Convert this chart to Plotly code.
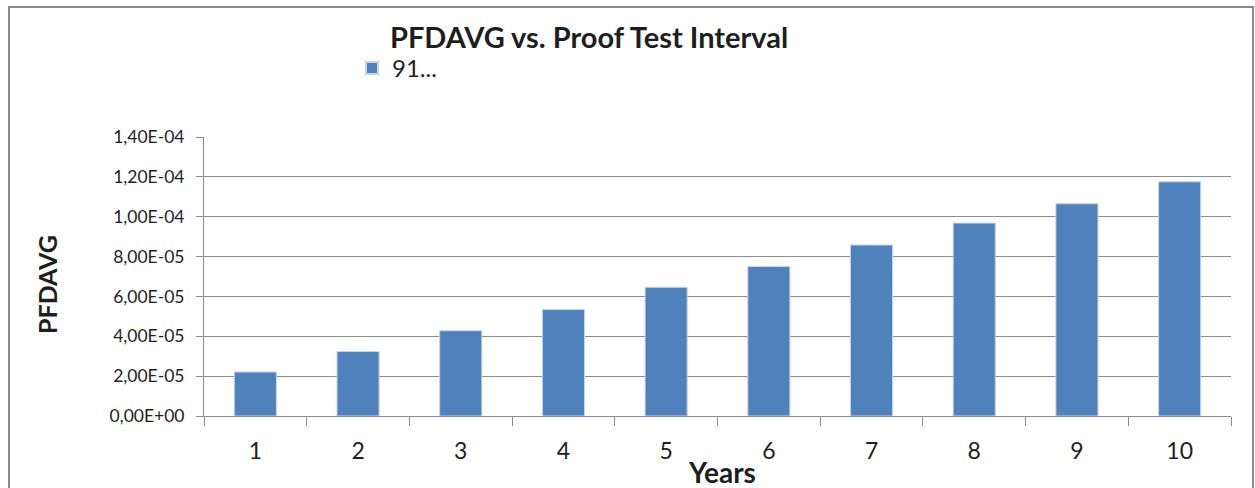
import plotly.graph_objects as go

years = ["1", "2", "3", "4", "5", "6", "7", "8", "9", "10"]
pfdavg = [2.21e-5, 3.24e-5, 4.28e-5, 5.34e-5, 6.46e-5, 7.5e-5, 8.58e-5, 9.68e-5, 1.065e-4, 1.175e-4]
series_name = "91..."
y_tickvals = [0, 2e-5, 4e-5, 6e-5, 8e-5, 1e-4, 1.2e-4, 1.4e-4]
y_ticktext = ["0,00E+00", "2,00E-05", "4,00E-05", "6,00E-05", "8,00E-05", "1,00E-04", "1,20E-04", "1,40E-04"]

W, H = 1255, 488
L, R, T, B = 204, 1231, 137, 416
pw, ph = R - L, B - T

def px(x):
    return (x - L) / pw

def py(y):
    return (B - y) / ph

FONT = "Lato"
TXT = "#1e1e1e"
GRID = "#8c8c8c"

fig = go.Figure()
fig.add_trace(go.Bar(
    x=years, y=pfdavg, name=series_name,
    marker=dict(color="#4F81BD", line=dict(color="#C5D5EA", width=1)),
    width=0.41, showlegend=True,
))

fig.update_layout(
    width=W, height=H,
    margin=dict(l=L, r=W - R, t=T, b=H - B, pad=0),
    paper_bgcolor="white", plot_bgcolor="white",
    font=dict(family=FONT, color=TXT),
    showlegend=True,
    legend=dict(x=px(352), y=py(46), xanchor="left", yanchor="top",
                font=dict(size=24, family=FONT, color=TXT),
                bgcolor="rgba(0,0,0,0)", borderwidth=0,
                itemsizing="constant"),
    xaxis=dict(type="category", range=[-0.5, 9.5],
               showline=True, linecolor=GRID, linewidth=1,
               ticks="outside", ticklen=9, tickcolor=GRID, tickwidth=1,
               tickson="boundaries", showgrid=False,
               tickfont=dict(size=23, family=FONT, color=TXT),
               ticklabelstandoff=14),
    yaxis=dict(range=[0, 1.4e-4], tickvals=y_tickvals, ticktext=y_ticktext,
               showline=True, linecolor=GRID, linewidth=1,
               ticks="outside", ticklen=7, tickcolor=GRID, tickwidth=1,
               showgrid=True, gridcolor=GRID, gridwidth=1, zeroline=False,
               tickfont=dict(size=17.5, family=FONT, color=TXT),
               ticklabelstandoff=8),
    bargap=0.59,
)

fig.add_annotation(text="<b>PFDAVG vs. Proof Test Interval</b>", xref="paper", yref="paper",
                   x=px(589), y=py(37), xanchor="center", yanchor="middle",
                   showarrow=False, font=dict(size=29, family=FONT, color=TXT))
fig.add_annotation(text="<b>PFDAVG</b>", xref="paper", yref="paper",
                   x=px(47), y=py(285), xanchor="center", yanchor="middle", textangle=-90,
                   showarrow=False, font=dict(size=25, family=FONT, color=TXT))
fig.add_annotation(text="<b>Years</b>", xref="paper", yref="paper",
                   x=px(722), y=py(472), xanchor="center", yanchor="middle",
                   showarrow=False, font=dict(size=28, family=FONT, color=TXT))

fig.add_shape(type="rect", xref="paper", yref="paper",
              x0=px(9), x1=px(1253), y0=py(7), y1=py(500),
              line=dict(color="#8a8a8a", width=2), fillcolor="rgba(0,0,0,0)", layer="below")

fig.write_html("out.html", config={"displayModeBar": False},
               post_script="document.body.style.margin='0';document.body.style.overflow='hidden';")
